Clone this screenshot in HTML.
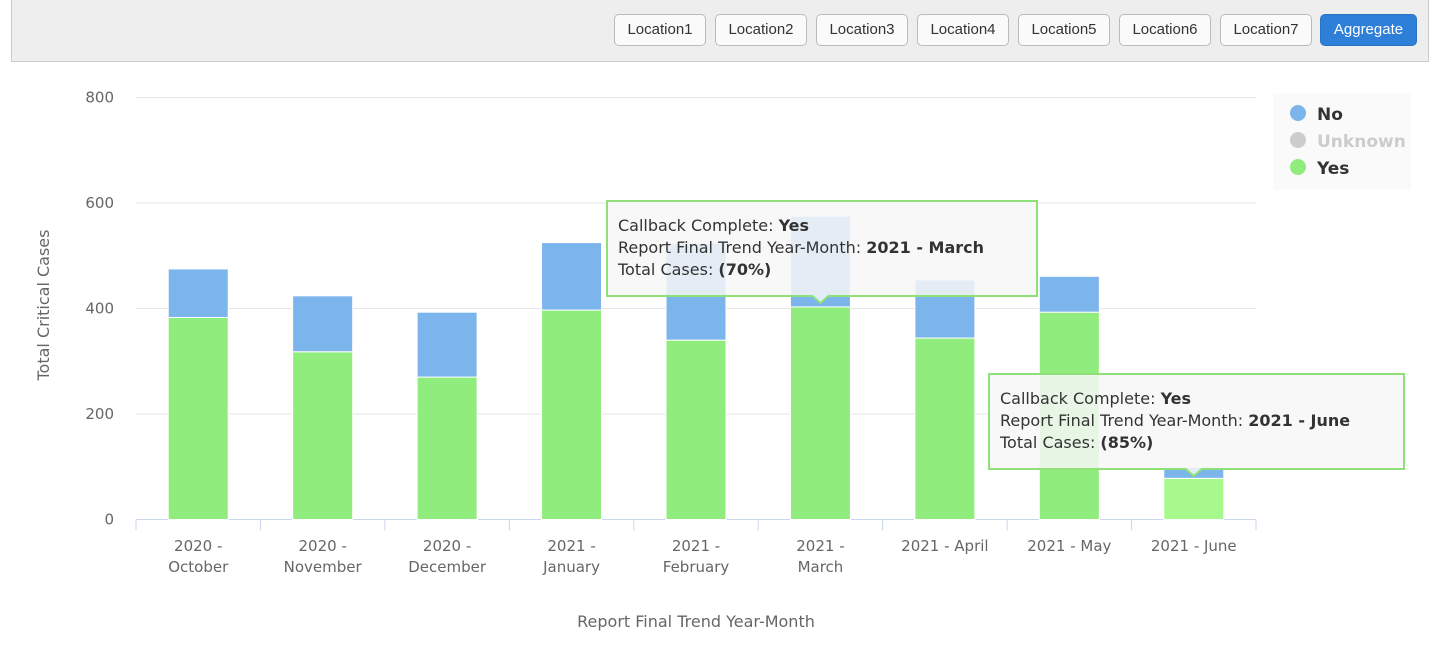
<!DOCTYPE html>
<html><head><meta charset="utf-8"><style>
body{margin:0;width:1440px;height:650px;background:#fff;overflow:hidden;font-family:"DejaVu Sans","Liberation Sans",sans-serif;position:relative}
.hdr{position:absolute;left:11px;top:0;width:1418px;height:62px;background:#eee;border:1px solid #ccc;border-top:none;box-sizing:border-box}
.btn{position:absolute;top:14px;height:32px;width:92px;box-sizing:border-box;border:1px solid #bbb;border-radius:5px;background:#fafafa;font:15px "Liberation Sans",sans-serif;color:#333;text-align:center;line-height:30px}
.agg{background:#2e7fd8;border-color:#2a73c4;color:#fff;width:97px}
svg{position:absolute;left:0;top:0}
</style></head><body>
<div class="hdr"></div>
<div class="btn" style="left:614px">Location1</div>
<div class="btn" style="left:715px">Location2</div>
<div class="btn" style="left:816px">Location3</div>
<div class="btn" style="left:917px">Location4</div>
<div class="btn" style="left:1018px">Location5</div>
<div class="btn" style="left:1119px">Location6</div>
<div class="btn" style="left:1220px">Location7</div>
<div class="btn agg" style="left:1320px">Aggregate</div>
<svg id="chart" width="1440" height="650"></svg>
<script>
const categories=[["2020 -","October"],["2020 -","November"],["2020 -","December"],["2021 -","January"],["2021 -","February"],["2021 -","March"],["2021 - April"],["2021 - May"],["2021 - June"]];
const yesValues=[383,318,270,397,340,403,344,393,78];
const noValues=[92,106,123,128,184,172,110,68,21];
const yTicks=[0,200,400,600,800];
const NS="http://www.w3.org/2000/svg";
const svg=document.getElementById('chart');
const x0=136,x1=1256,y0=519.5,yScale=0.5275;
const band=(x1-x0)/categories.length;
const xc=i=>x0+band*(i+0.5);
const yv=v=>y0-v*yScale;
function mk(t,a,txt){const e=document.createElementNS(NS,t);for(const k in a)e.setAttribute(k,a[k]);if(txt!=null)e.textContent=txt;svg.appendChild(e);return e;}
yTicks.forEach(v=>{
 const g=mk('line',{x1:x0,x2:x1,y1:yv(v),y2:yv(v),stroke:v?'#e6e6e6':'#ccd6eb','stroke-width':1});
 
 
 const t=mk('text',{x:114,y:yv(v)+5,'text-anchor':'end','font-size':15,fill:'#666'},v);
 
 
});
for(let i=0;i<=categories.length;i++){
 const l=mk('line',{x1:x0+band*i,x2:x0+band*i,y1:y0,y2:y0+11,stroke:'#ccd6eb'});
 
 
}
const bw=60;
categories.forEach((c,i)=>{
 const hov=i===categories.length-1;
 const yes=mk('rect',{x:xc(i)-bw/2,y:yv(yesValues[i]),width:bw,height:yesValues[i]*yScale,fill:hov?'#a6f98a':'#90ed7d',stroke:'#fff','stroke-width':1});
 
 
 const no=mk('rect',{x:xc(i)-bw/2,y:yv(yesValues[i]+noValues[i]),width:bw,height:noValues[i]*yScale,fill:'#7cb5ec',stroke:'#fff','stroke-width':1});
 
 
 c.forEach((s,j)=>{
  const t=mk('text',{x:xc(i),y:551+j*21,'text-anchor':'middle','font-size':15,fill:'#666'},s);
  
  
 });
});
let t=mk('text',{x:696,y:627,'text-anchor':'middle','font-size':16,fill:'#666'},'Report Final Trend Year-Month');


t=mk('text',{x:0,y:0,transform:'translate(49,305) rotate(-90)','text-anchor':'middle','font-size':16,fill:'#666'},'Total Critical Cases');


// legend
const lg=mk('rect',{x:1273,y:94,width:138,height:96,fill:'#fafafa'});


[['No','#7cb5ec','#333'],['Unknown','#cccccc','#ccc'],['Yes','#90ed7d','#333']].forEach((e,i)=>{
 const c=mk('circle',{cx:1298,cy:113+i*27,r:8,fill:e[1]});
 
 
 const tx=mk('text',{x:1317,y:120+i*27,'font-size':17,'font-weight':'bold',fill:e[2]},e[0]);
 
 
});
function tip(x,y,w,px,month,pct){
 const p=mk('path',{d:`M${x} ${y}h${w}v95H${px+8}l-8 7l-8 -7H${x}Z`,fill:'rgba(247,247,247,0.85)',stroke:'#90e07a','stroke-width':2});
 
 
 const lines=[['Callback Complete: ','Yes'],['Report Final Trend Year-Month: ',month],['Total Cases:        ',pct]];
 lines.forEach((l,i)=>{
  const tx=mk('text',{x:x+11,y:y+30+i*22,'font-size':16,fill:'#333','xml:space':'preserve'});
  
  
  const a=document.createElementNS(NS,'tspan');a.textContent=l[0];tx.appendChild(a);
  const b=document.createElementNS(NS,'tspan');b.setAttribute('font-weight','bold');b.textContent=l[1];tx.appendChild(b);
 });
}
tip(607,201,430,xc(5),'2021 - March','(70%)');
tip(989,374,415,xc(8),'2021 - June','(85%)');
</script>
</body></html>
